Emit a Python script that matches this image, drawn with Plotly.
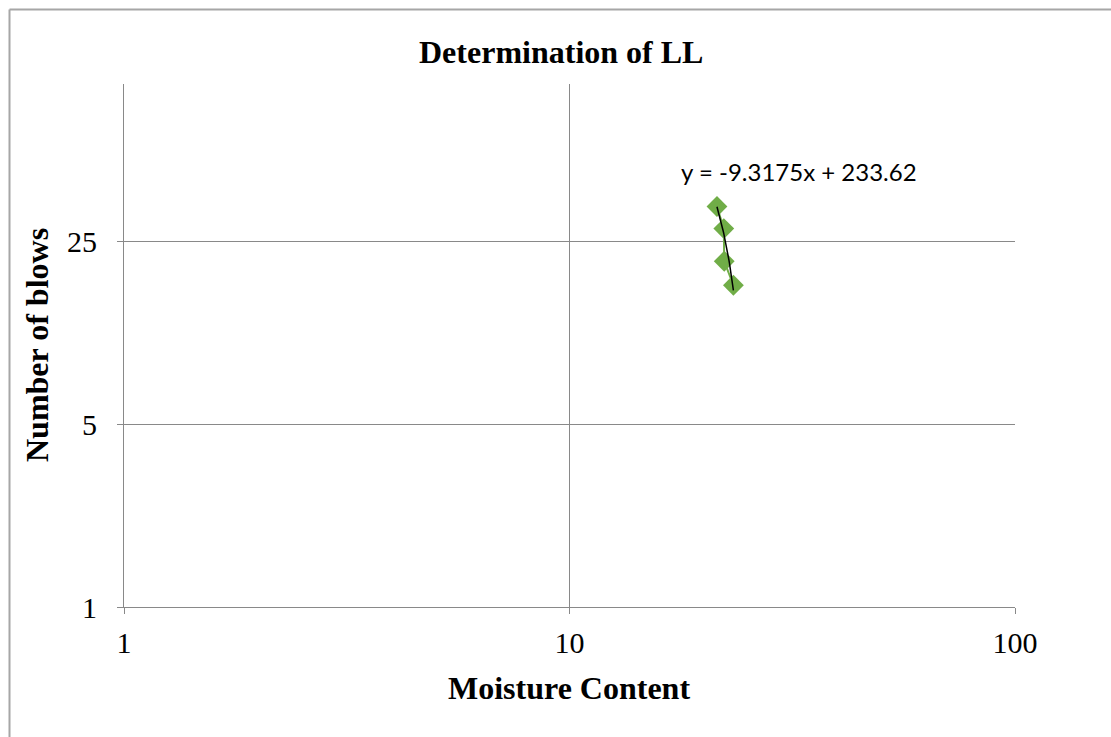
import numpy as np
import plotly.graph_objects as go

# Data
moisture_content = [21.43, 22.2, 22.25, 23.33]
number_of_blows = [34, 28, 21, 17]

# Trendline equation shown on the chart
trend_slope = -9.3175
trend_intercept = 233.62
trend_label = "y = -9.3175x + 233.62"

x_ticks = [1, 10, 100]
y_ticks = [1, 5, 25]

W, H = 1111, 737
L, R, T, B = 124, 96, 84, 130
PW, PH = W - L - R, H - T - B

def px(xp):
    return (xp - L) / PW

def py(yp):
    return (H - B - yp) / PH

fig = go.Figure()

fig.add_trace(go.Scatter(
    x=moisture_content, y=number_of_blows, mode="lines+markers",
    line=dict(color="#70AD47", width=2),
    marker=dict(symbol="diamond", size=16, color="#70AD47"),
    showlegend=False, hoverinfo="x+y",
))

tx = np.linspace(min(moisture_content), max(moisture_content), 30)
ty = trend_slope * tx + trend_intercept
fig.add_trace(go.Scatter(
    x=tx, y=ty, mode="lines", line=dict(color="black", width=1.5),
    showlegend=False, hoverinfo="skip",
))

grid = "#898989"
axis_common = dict(
    type="log", range=[0, 2], showgrid=True, gridcolor=grid, gridwidth=1,
    showline=True, linecolor=grid, linewidth=1.2, ticks="outside", ticklen=6,
    tickcolor=grid, tickwidth=1, zeroline=False,
    tickfont=dict(family="Liberation Serif", size=30, color="black"),
)

fig.update_layout(
    width=W, height=H,
    margin=dict(l=L, r=R, t=T, b=B),
    paper_bgcolor="white", plot_bgcolor="white",
    xaxis=dict(**axis_common, tickvals=x_ticks, ticktext=[str(v) for v in x_ticks],
               ticklabelstandoff=3),
    yaxis=dict(**axis_common, tickvals=y_ticks, ticktext=[str(v) for v in y_ticks],
               ticklabelstandoff=14),
    annotations=[
        dict(text="<b>Determination of LL</b>", xref="paper", yref="paper",
             x=px(561), y=py(52), showarrow=False, xanchor="center", yanchor="middle",
             font=dict(family="Liberation Serif", size=32, color="black")),
        dict(text="<b>Moisture Content</b>", xref="paper", yref="paper",
             x=px(569), y=py(688), showarrow=False, xanchor="center", yanchor="middle",
             font=dict(family="Liberation Serif", size=32, color="black")),
        dict(text="<b>Number of blows</b>", xref="paper", yref="paper",
             x=px(37), y=py(345), showarrow=False, xanchor="center", yanchor="middle",
             textangle=-90,
             font=dict(family="Liberation Serif", size=32, color="black")),
        dict(text=trend_label, xref="paper", yref="paper",
             x=px(799), y=py(171), showarrow=False, xanchor="center", yanchor="middle",
             font=dict(family="Lato", size=24, color="black")),
    ],
    shapes=[
        dict(type="line", xref="paper", yref="paper", x0=px(9.5), x1=px(9.5),
             y0=py(9.5), y1=py(760), line=dict(color="#A6A6A6", width=2)),
        dict(type="line", xref="paper", yref="paper", x0=px(9.5), x1=px(1130),
             y0=py(9.5), y1=py(9.5), line=dict(color="#A6A6A6", width=2)),
    ],
)

fig.write_html("out.html", config={"displayModeBar": False},
               post_script="document.body.style.margin='0px';document.body.style.overflow='hidden';")
